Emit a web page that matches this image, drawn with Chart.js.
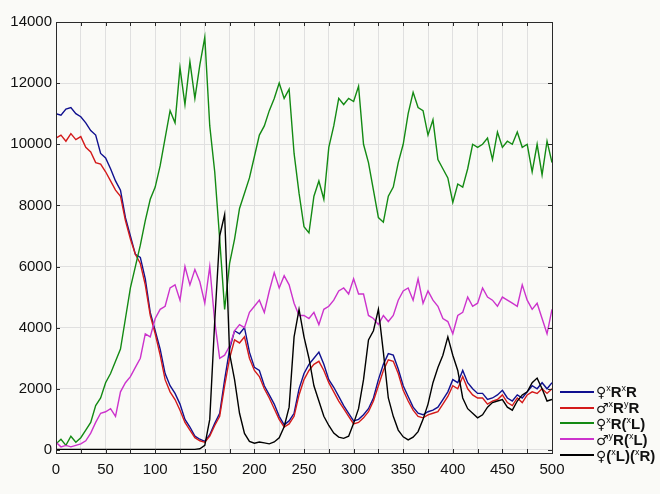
<!DOCTYPE html>
<html>
<head>
<meta charset="utf-8">
<script src="https://cdn.jsdelivr.net/npm/chart.js@4.4.1/dist/chart.umd.min.js"></script>
<style>
  body { margin: 0; background: #fafaf7; }
  #wrap { position: relative; width: 660px; height: 494px; }
  #legend { position: absolute; left: 560px; top: 384px; font-family: "Liberation Sans", Arial, sans-serif; }
  .row { display: flex; align-items: center; height: 15.8px; }
  .row .ln { width: 34px; height: 2px; margin-right: 2px; }
  .row .tx { font-size: 15px; font-weight: bold; color: #111; white-space: nowrap; }
  .row .sg { font-size: 14px; font-weight: normal; font-family: "DejaVu Sans", sans-serif; }
  .row sup { font-size: 9px; font-weight: normal; }
</style>
</head>
<body>
<div id="wrap">
  <canvas id="chart" width="660" height="494"></canvas>
  <div id="legend"></div>
</div>
<script>
// generation steps, one value every 5 steps (0..500)
const steps = Array.from({ length: 101 }, (_, i) => i * 5);

const yTicks = [0, 2000, 4000, 6000, 8000, 10000, 12000, 14000];

// ♀xRxR
const femaleRR = [
  11000, 10950, 11150, 11200, 11000, 10900, 10700, 10450, 10300, 9700,
  9550, 9200, 8800, 8500, 7600, 7000, 6400, 6300, 5600, 4500,
  3900, 3300, 2500, 2100, 1850, 1500, 1000, 750, 450, 350,
  280, 500, 870, 1200, 2300, 3300, 3900, 3800, 4000, 3200,
  2700, 2600, 2100, 1800, 1500, 1100, 820, 950, 1200, 2000,
  2500, 2800, 3000, 3200, 2800, 2300, 2050, 1750, 1450, 1200,
  950, 1000, 1150, 1350, 1700, 2300, 2800, 3150, 3100, 2650,
  2100, 1750, 1400, 1200, 1150, 1250, 1300, 1400, 1650, 1900,
  2300, 2200, 2600, 2200, 2000, 1850, 1850, 1650, 1700, 1800,
  1950, 1700, 1600, 1800, 1700, 1900, 2100, 2000, 2200, 2000,
  2200
];

// ♂xRyR
const maleRR = [
  10200, 10300, 10100, 10350, 10150, 10250, 9900, 9750, 9400, 9350,
  9100, 8800, 8500, 8300, 7500, 6900, 6400, 6100, 5400, 4400,
  3800, 3100, 2300, 1900, 1650, 1300, 900, 650, 400, 300,
  250, 450, 800, 1100, 2100, 3000, 3600, 3500, 3700, 3000,
  2600, 2400, 2000, 1700, 1350, 1000, 750, 850, 1100, 1800,
  2300, 2600, 2800, 2900, 2600, 2200, 1900, 1600, 1350, 1100,
  850, 900, 1050, 1250, 1600, 2100, 2600, 2950, 2900, 2500,
  1950, 1600, 1300, 1100, 1050, 1150, 1200, 1250, 1500, 1750,
  2100, 2000, 2400, 2000, 1800, 1700, 1700, 1500, 1600, 1650,
  1800, 1550, 1450, 1700, 1550, 1800, 1900, 1850, 2000, 1850,
  2000
];

// ♀xR(xL)
const femaleRL = [
  200, 350, 150, 450, 250, 400, 650, 900, 1450, 1700,
  2200, 2500, 2900, 3300, 4300, 5300, 6000, 6700, 7500, 8200,
  8600, 9300, 10200, 11100, 10700, 12500, 11300, 12700, 11500, 12600,
  13500, 10600, 9100, 6900, 4600, 6100, 6900, 7900, 8400, 8900,
  9600, 10300, 10600, 11100, 11500, 12000, 11500, 11800, 9700, 8400,
  7300, 7100, 8300, 8800, 8200, 9900, 10600, 11500, 11300, 11500,
  11400, 11900, 10000, 9400, 8500, 7600, 7450, 8300, 8600, 9400,
  10000, 11000, 11700, 11200, 11100, 10300, 10800, 9500, 9200, 8900,
  8100, 8700, 8600, 9200, 10000, 9900, 10000, 10200, 9500, 10400,
  9900, 10100, 10000, 10400, 9900, 10000, 9100, 10000, 9000, 10100,
  9400
];

// ♂yR(xL)
const maleRL = [
  250, 100, 150, 100, 150, 200, 300, 550, 900, 1200,
  1250, 1350, 1100, 1900, 2200, 2400, 2700, 3000, 3800, 3700,
  4300, 4600, 4700, 5300, 5400, 4900, 6000, 5400, 5900, 5500,
  4800, 6000, 4200, 3000, 3100, 3400, 3900, 4100, 4000, 4500,
  4700, 4900, 4500, 5200, 5800, 5300, 5700, 5400, 4800, 4400,
  4400, 4300, 4500, 4100, 4600, 4700, 4900, 5200, 5300, 5100,
  5600, 5100, 5100, 4400, 4300, 4100, 4400, 4200, 4400, 4900,
  5200, 5300, 4900, 5600, 4800, 5200, 4900, 4700, 4300, 4200,
  3800, 4400, 4500, 5000, 4700, 4800, 5300, 5000, 4900, 4700,
  5000, 4900, 4800, 4700, 5400, 4900, 4600, 4800, 4300, 3800,
  4600
];

// ♀(xL)(xR)
const femaleLR = [
  20, 20, 20, 20, 20, 20, 20, 20, 20, 20,
  20, 20, 20, 20, 20, 20, 20, 20, 20, 20,
  20, 20, 20, 20, 20, 20, 20, 20, 20, 40,
  150, 1000, 4200, 7000, 7700, 3150, 2300, 1200, 540, 280,
  220, 260, 230, 200, 260, 400, 760, 1400, 3700, 4600,
  3700, 3000, 2100, 1600, 1100, 800, 550, 420, 380, 450,
  870, 1350, 2300, 3600, 3900, 4600, 3200, 1700, 1100, 650,
  430, 330, 420, 600, 1000, 1500, 2200, 2700, 3100, 3700,
  3100, 2600, 1700, 1350, 1200, 1050, 1150, 1400, 1550, 1600,
  1650, 1400, 1300, 1600, 1800, 1900, 2200, 2350, 2000, 1600,
  1650
];

const seriesNames = ['♀xRxR', '♂xRyR', '♀xR(xL)', '♂yR(xL)', '♀(xL)(xR)'];
const legendHtml = [
  '<span class="sg">♀</span><sup>x</sup>R<sup>x</sup>R',
  '<span class="sg">♂</span><sup>x</sup>R<sup>y</sup>R',
  '<span class="sg">♀</span><sup>x</sup>R(<sup>x</sup>L)',
  '<span class="sg">♂</span><sup>y</sup>R(<sup>x</sup>L)',
  '<span class="sg">♀</span>(<sup>x</sup>L)(<sup>x</sup>R)'
];
const colors = ['#10108f', '#d41a1a', '#138a13', '#cc33cc', '#000000'];
const drawOrder = [5, 4, 3, 2, 1];

function toPoints(values) {
  return values.map((v, i) => ({ x: steps[i], y: v }));
}

const allSeries = [femaleRR, maleRR, femaleRL, maleRL, femaleLR];

// box around the plot with small inward ticks
const framePlugin = {
  id: 'frame',
  afterDraw(chart) {
    const { ctx, chartArea: a, scales } = chart;
    ctx.save();
    ctx.strokeStyle = '#2a2a2a';
    ctx.lineWidth = 1;
    ctx.strokeRect(Math.round(a.left) + 0.5, Math.round(a.top) + 0.5,
      Math.round(a.right - a.left), Math.round(a.bottom - a.top));
    ctx.beginPath();
    for (let v = 25; v < 500; v += 25) {
      const px = Math.round(scales.x.getPixelForValue(v)) + 0.5;
      ctx.moveTo(px, a.bottom); ctx.lineTo(px, a.bottom - 4);
      ctx.moveTo(px, a.top); ctx.lineTo(px, a.top + 4);
    }
    yTicks.forEach(v => {
      const py = Math.round(scales.y.getPixelForValue(v)) + 0.5;
      ctx.moveTo(a.left, py); ctx.lineTo(a.left + 4, py);
      ctx.moveTo(a.right, py); ctx.lineTo(a.right - 4, py);
    });
    ctx.stroke();
    ctx.restore();
  }
};

const ctx = document.getElementById('chart').getContext('2d');
new Chart(ctx, {
  type: 'line',
  data: {
    datasets: allSeries.map((vals, i) => ({
      label: seriesNames[i],
      data: toPoints(vals),
      borderColor: colors[i],
      borderWidth: 1.4,
      pointRadius: 0,
      tension: 0,
      fill: false,
      order: drawOrder[i]
    }))
  },
  options: {
    responsive: false,
    animation: false,
    layout: { padding: { top: 22, right: 108, left: 0, bottom: 0 } },
    plugins: { legend: { display: false }, tooltip: { enabled: false } },
    scales: {
      x: {
        type: 'linear',
        min: 0,
        max: 500,
        afterFit: s => { s.height = 41; },
        grid: { color: '#e0e0e0', drawTicks: false },
        border: { display: false },
        ticks: {
          stepSize: 25,
          autoSkip: false,
          maxRotation: 0,
          padding: 8,
          color: '#111',
          font: { family: 'Liberation Sans', size: 15 },
          callback: v => (v % 50 === 0 ? String(v) : '')
        }
      },
      y: {
        min: -100,
        max: 14000,
        afterFit: s => { s.width = 56; },
        afterBuildTicks: s => { s.ticks = yTicks.map(v => ({ value: v })); },
        grid: { color: '#e0e0e0', drawTicks: false },
        border: { display: false },
        ticks: {
          padding: 4,
          color: '#111',
          font: { family: 'Liberation Sans', size: 15 },
          callback: v => String(v)
        }
      }
    }
  },
  plugins: [framePlugin]
});

const legend = document.getElementById('legend');
legendHtml.forEach((h, i) => {
  const row = document.createElement('div');
  row.className = 'row';
  row.innerHTML = '<div class="ln" style="background:' + colors[i] + '"></div><div class="tx">' + h + '</div>';
  legend.appendChild(row);
});
</script>
</body>
</html>
